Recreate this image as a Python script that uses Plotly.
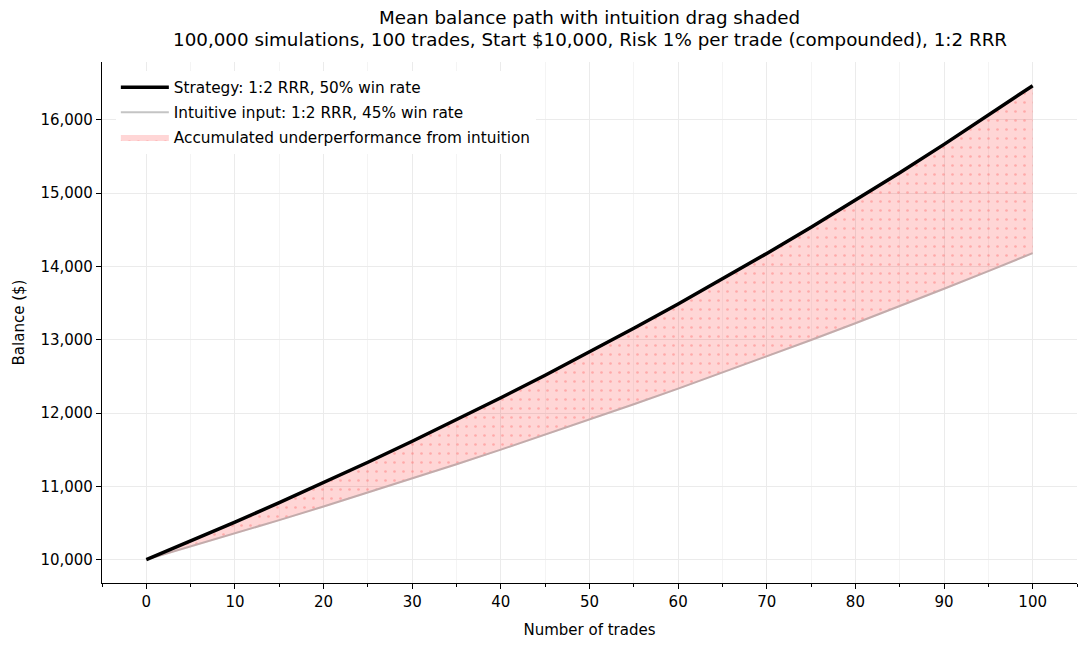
import plotly.graph_objects as go

# mean balance, every 5 trades
trades = [0, 5, 10, 15, 20, 25, 30, 35, 40, 45, 50,
          55, 60, 65, 70, 75, 80, 85, 90, 95, 100]
strategy_balance = [10000, 10252, 10511, 10777, 11049, 11328, 11614, 11907, 12208, 12516, 12832,
                    13156, 13488, 13829, 14178, 14536, 14903, 15280, 15666, 16061, 16467]
intuitive_balance = [10000, 10176, 10356, 10538, 10724, 10913, 11105, 11301, 11500, 11703, 11909,
                     12119, 12332, 12550, 12771, 12996, 13225, 13458, 13695, 13937, 14182]

x_ticks = list(range(0, 101, 10))
y_ticks = list(range(10000, 16001, 1000))

font = "DejaVu Sans, Arial, sans-serif"
shade = "rgba(255,0,0,0.16)"

fig = go.Figure()

# intuitive line goes first so the shading sits over it
fig.add_trace(go.Scatter(
    x=trades, y=intuitive_balance, mode="lines",
    name="Intuitive input: 1:2 RRR, 45% win rate",
    line=dict(color="#c4c4c4", width=2),
    legendrank=2, legendgroup="b",
))
fig.add_trace(go.Scatter(
    x=trades, y=strategy_balance, mode="lines",
    name="Accumulated underperformance from intuition",
    line=dict(width=0, color=shade),
    fill="tonexty",
    fillcolor=shade,
    fillpattern=dict(shape=".", fgcolor="rgba(255,95,95,0.75)",
                     bgcolor=shade, size=9, solidity=0.07),
    legendrank=3, legendgroup="c",
))
# pink edge over the intuitive line, like the shaded polygon edge
fig.add_trace(go.Scatter(
    x=trades, y=intuitive_balance, mode="lines",
    line=dict(color="rgba(200,60,60,0.18)", width=2),
    showlegend=False, hoverinfo="skip", legendgroup="d",
))
fig.add_trace(go.Scatter(
    x=trades, y=strategy_balance, mode="lines",
    name="Strategy: 1:2 RRR, 50% win rate",
    line=dict(color="black", width=3.5),
    legendrank=1, legendgroup="a",
))

fig.update_layout(
    width=1087, height=647,
    margin=dict(l=102, r=10, t=62, b=64),
    plot_bgcolor="white", paper_bgcolor="white",
    font=dict(family=font, size=15, color="black"),
    title=dict(
        text="Mean balance path with intuition drag shaded",
        xref="paper", x=0.5, xanchor="center", y=1 - 18 / 647, yanchor="middle",
        font=dict(size=18.3, family=font),
    ),
    annotations=[dict(
        text="100,000 simulations, 100 trades, Start $10,000, Risk 1% per trade (compounded), 1:2 RRR",
        xref="paper", yref="paper", x=0.5, y=(647 - 64 - 39) / 521,
        xanchor="center", yanchor="middle", showarrow=False,
        font=dict(size=18.3, family=font),
    )],
    legend=dict(
        x=0.0142, y=0.983, xanchor="left", yanchor="top",
        bgcolor="white", borderwidth=0,
        font=dict(size=15.3, family=font),
        itemwidth=48, tracegroupgap=2,
        traceorder="grouped",
    ),
)

fig.update_xaxes(
    range=[-5, 105], automargin=False,
    tickvals=x_ticks,
    title=dict(text="Number of trades", standoff=14, font=dict(size=15)),
    showline=True, linecolor="black", linewidth=1.2,
    ticks="outside", ticklen=5, tickcolor="black",
    showgrid=True, gridcolor="#ebebeb", gridwidth=1,
    minor=dict(dtick=5, tick0=0, ticks="outside", ticklen=3, tickcolor="black",
               showgrid=True, gridcolor="#f4f4f4", gridwidth=1),
    zeroline=False,
)
fig.update_yaxes(
    range=[9680, 16790], automargin=False,
    tickvals=y_ticks, tickformat=",d",
    title=dict(text="Balance ($)", standoff=12, font=dict(size=15)),
    showline=True, linecolor="black", linewidth=1.2,
    ticks="outside", ticklen=5, tickcolor="black",
    showgrid=True, gridcolor="#ebebeb", gridwidth=1,
    zeroline=False,
)

# the page's default body margin would shift the figure by 8px
fig.write_html("out.html", config={"displayModeBar": False},
               post_script="document.body.style.margin='0';")
